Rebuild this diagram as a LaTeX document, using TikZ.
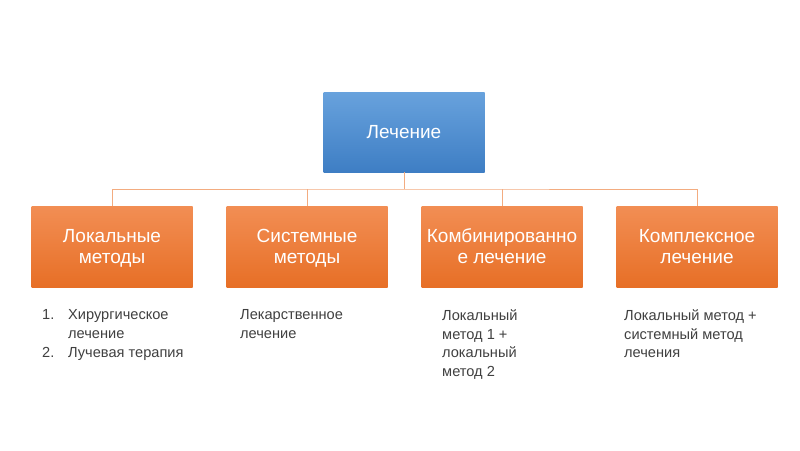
\documentclass[tikz,border=0pt]{standalone}
\usepackage{fontspec}
\setmainfont{Liberation Sans}
\definecolor{otop}{RGB}{242,142,84}
\definecolor{obot}{RGB}{231,111,38}
\definecolor{btop}{RGB}{104,162,221}
\definecolor{bbot}{RGB}{62,126,196}
\definecolor{conn}{RGB}{243,172,128}
\definecolor{txt}{RGB}{64,64,64}
\newcommand{\toprl}{\rule{0pt}{16.5pt}}
\newcommand{\botrl}{\rule[-4.5pt]{0pt}{4.5pt}}
\begin{document}
\begin{tikzpicture}[x=1pt,y=-1pt,
  catbox/.style={minimum width=161pt,minimum height=81pt,inner sep=0pt,
    top color=otop,bottom color=obot,draw=none,text=white,align=center,
    font=\fontsize{19}{21}\selectfont},
  rootbox/.style={minimum width=161pt,minimum height=80pt,inner sep=0pt,
    top color=btop,bottom color=bbot,draw=none,text=white,align=center,
    font=\fontsize{19}{21}\selectfont},
  connline/.style={draw=conn,line width=1pt},
  desc/.style={anchor=north west,inner sep=0pt,align=left,text=txt,
    font=\fontsize{14.6}{18.7}\selectfont}]
\useasboundingbox (0,0) rectangle (800,450);
\fill[white] (0,0) rectangle (800,450);
\node[rootbox] (root) at (404,132) {\raisebox{-1pt}{Лечение}};
\node[catbox] (c1) at (112,246.5) {\toprl Локальные\\методы\botrl};
\node[catbox] (c2) at (307,246.5) {\toprl Системные\\методы\botrl};
\node[catbox] (c3) at (502,246.5) {\toprl Комбинированно\\е лечение\botrl};
\node[catbox] (c4) at (697,246.5) {\toprl Комплексное\\лечение\botrl};
\coordinate (bar) at (404,189);
\draw[connline] (root.south) -- (bar);
\draw[connline] (c1.north) |- (bar) -| (c4.north);
\draw[connline] (c2.north) -- (c2.north |- bar);
\draw[connline] (c3.north) -- (c3.north |- bar);
\node[desc] (n1) at (42,309.5) {1.\\[18.7pt]2.};
\node[desc] (d1) at (68,309.5) {Хирургическое\\лечение\\Лучевая терапия};
\node[desc] (d2) at (240,309.5) {Лекарственное\\лечение};
\node[desc] (d3) at (442,309.5) {Локальный\\метод 1 +\\локальный\\метод 2};
\node[desc] (d4) at (624,309.5) {Локальный метод +\\системный метод\\лечения};
\end{tikzpicture}
\end{document}
